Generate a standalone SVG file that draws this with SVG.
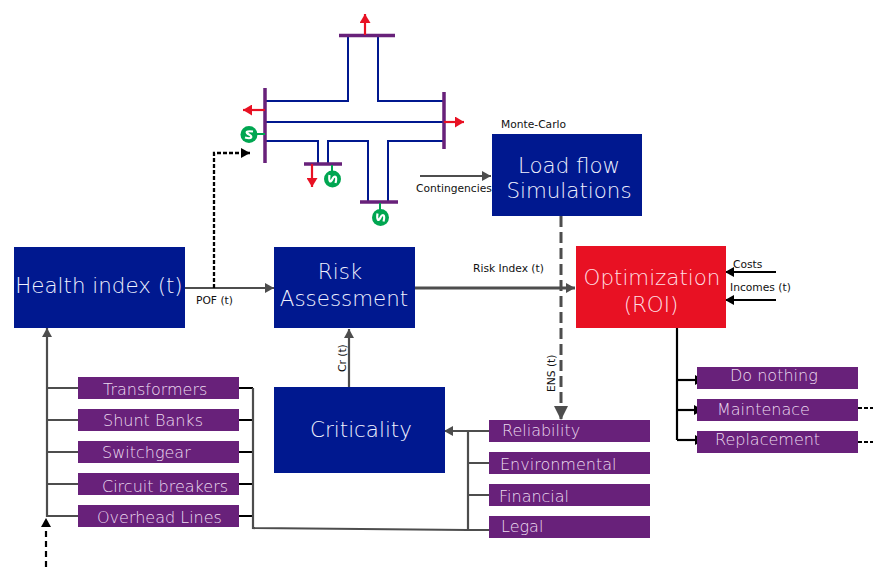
<svg xmlns="http://www.w3.org/2000/svg" width="873" height="568" viewBox="0 0 873 568">
<style>
text{font-family:"DejaVu Sans",sans-serif}
.b{fill:#00188f}
.r{fill:#e81123}
.p{fill:#68217a}
.bt{fill:#f0f2ff;font-size:21.400px;font-weight:200;text-anchor:middle}
.rt{fill:#ffdfe2;font-size:21.400px;font-weight:200;text-anchor:middle}
.pt{fill:#ecdcf0;font-size:16px;font-weight:200}
.l{fill:#111;font-size:10.700px}
.g{fill:none;stroke:#4d4d4d;stroke-width:2.200}
.g3{fill:none;stroke:#4d4d4d;stroke-width:3}
.k{fill:none;stroke:#000;stroke-width:2.200}
.kd{fill:none;stroke:#000;stroke-width:2.300}
.bus{fill:none;stroke:#68217a;stroke-width:3.500}
.line{fill:none;stroke:#00188f;stroke-width:2}
.red{fill:none;stroke:#e81123;stroke-width:2.200}
.gen{fill:#00a651}
.gl{fill:none;stroke:#00a651;stroke-width:2}
.s{fill:none;stroke:#fff;stroke-width:2.200}
</style>
<defs>
<marker id="ag" markerUnits="userSpaceOnUse" markerWidth="10" markerHeight="11" refX="9" refY="5.500" orient="auto"><path d="M0 0.500L9 5.500L0 10.500Z" fill="#4d4d4d"/></marker>
<marker id="agl" markerUnits="userSpaceOnUse" markerWidth="15" markerHeight="15" refX="14" refY="7.500" orient="auto"><path d="M0 0.500L14 7.500L0 14.500Z" fill="#4d4d4d"/></marker>
<marker id="ak" markerUnits="userSpaceOnUse" markerWidth="10" markerHeight="11" refX="9" refY="5.500" orient="auto"><path d="M0 0.500L9 5.500L0 10.500Z" fill="#000"/></marker>
<marker id="ar" markerUnits="userSpaceOnUse" markerWidth="10" markerHeight="11" refX="9" refY="5.500" orient="auto"><path d="M0 0L9 5.500L0 11Z" fill="#e81123"/></marker>
</defs>
<g id="connectors">
<path class="g" d="M185 288H274" marker-end="url(#ag)"/>
<path class="kd" stroke-dasharray="4 2" d="M214 288V153H250" marker-end="url(#ak)"/>
<path class="g3" d="M415 288H575" marker-end="url(#ag)"/>
<path class="g" d="M420 176H491" marker-end="url(#ag)"/>
<path class="g3" stroke-dasharray="11 5" d="M561 216V420" marker-end="url(#agl)"/>
<path class="g" d="M349 387V329" marker-end="url(#ag)"/>
<path class="g" d="M47 517V328" marker-end="url(#ag)"/>
<path class="k" stroke-dasharray="6 4" d="M46 567V518" marker-end="url(#ak)"/>
<path class="g" d="M47 388H78M47 420H78M47 452H78M47 484H78M47 516H78"/>
<path class="k" d="M239 388H253M239 420H253M239 452H253M239 484H253M239 516H253"/>
<path class="g" d="M253 388V528L468 530"/>
<path class="g" d="M489 431H444" marker-end="url(#ag)"/>
<path class="g" d="M468 431V530M468 463H489M468 495H489M468 530H489"/>
<path class="k" d="M776 272H725" marker-end="url(#ak)"/>
<path class="k" d="M776 300H725" marker-end="url(#ak)"/>
<path class="k" d="M677 328V440"/>
<path class="k" d="M677 380H704" marker-end="url(#ak)"/>
<path class="k" d="M677 410H703" marker-end="url(#ak)"/>
<path class="k" d="M677 440H704" marker-end="url(#ak)"/>
<path class="k" stroke-dasharray="4 2" d="M858 408H873M858 442H873"/>
</g>
<g id="network">
<path class="line" d="M266 101H348V36M378 36V101H444M266 122H444M266 141H318V164M328 164V141H368V202M388 202V141H444"/>
<path class="bus" d="M339 35.500H395M265 88V163M444 92V149M304 164H342M360 202H398"/>
<path class="red" d="M365 35V14" marker-end="url(#ar)"/>
<path class="red" d="M265 110H243" marker-end="url(#ar)"/>
<path class="red" d="M444 122H464" marker-end="url(#ar)"/>
<path class="red" d="M312 164V187" marker-end="url(#ar)"/>
<path class="gl" d="M257 134H265M332 165V172M380 203V210"/>
<circle class="gen" cx="249" cy="134.500" r="8.500"/>
<circle class="gen" cx="332.500" cy="179" r="8.500"/>
<circle class="gen" cx="380.500" cy="217.500" r="8.500"/>
<path class="s" d="M245 137.500C252 139.500 253 136.500 249 134.500S246 130.500 253 131.500"/>
<path class="s" d="M335.500 183C337.500 176 334.500 175 332.500 179S328.500 182 329.500 175"/>
<path class="s" d="M383.500 221.500C385.500 214.500 382.500 213.500 380.500 217.500S376.500 220.500 377.500 213.500"/>
</g>
<g id="load-flow"><rect class="b" x="492" y="134" width="150" height="82"/><text class="bt" x="569" y="173">Load flow</text><text class="bt" x="569" y="198">Simulations</text></g>
<g id="health"><rect class="b" x="14" y="247" width="171" height="81"/><text class="bt" x="99" y="293">Health index (t)</text></g>
<g id="risk"><rect class="b" x="274" y="247" width="141" height="81"/><text class="bt" x="340" y="279">Risk</text><text class="bt" x="344" y="306">Assessment</text></g>
<g id="optimization"><rect class="r" x="576" y="246" width="150" height="82"/><text class="rt" x="652" y="285">Optimization</text><text class="rt" x="651" y="312">(ROI)</text></g>
<g id="criticality"><rect class="b" x="274" y="387" width="171" height="86"/><text class="bt" x="361" y="437">Criticality</text></g>
<g id="transformers"><rect class="p" x="78" y="377" width="161" height="22"/><text class="pt" x="103" y="395">Transformers</text></g>
<g id="shunt"><rect class="p" x="78" y="409" width="161" height="22"/><text class="pt" x="103" y="426">Shunt Banks</text></g>
<g id="switchgear"><rect class="p" x="78" y="441" width="161" height="22"/><text class="pt" x="102" y="458">Switchgear</text></g>
<g id="breakers"><rect class="p" x="78" y="473" width="161" height="22"/><text class="pt" x="102" y="492">Circuit breakers</text></g>
<g id="overhead"><rect class="p" x="78" y="505" width="161" height="22"/><text class="pt" x="97" y="523">Overhead Lines</text></g>
<g id="reliability"><rect class="p" x="489" y="420" width="161" height="22"/><text class="pt" x="502" y="436">Reliability</text></g>
<g id="environmental"><rect class="p" x="489" y="452" width="161" height="22"/><text class="pt" x="500" y="470">Environmental</text></g>
<g id="financial"><rect class="p" x="489" y="484" width="161" height="22"/><text class="pt" x="499" y="502">Financial</text></g>
<g id="legal"><rect class="p" x="489" y="516" width="161" height="22"/><text class="pt" x="501" y="532">Legal</text></g>
<g id="do-nothing"><rect class="p" x="697" y="367" width="161" height="22"/><text class="pt" x="730" y="381">Do nothing</text></g>
<g id="maintenance"><rect class="p" x="697" y="399" width="161" height="22"/><text class="pt" x="717" y="415">Maintenace</text></g>
<g id="replacement"><rect class="p" x="697" y="431" width="161" height="22"/><text class="pt" x="715" y="445">Replacement</text></g>
<g id="labels">
<text class="l" x="501" y="128">Monte-Carlo</text>
<text class="l" x="416" y="192">Contingencies</text>
<text class="l" x="473" y="272">Risk Index (t)</text>
<text class="l" x="196" y="304">POF (t)</text>
<text class="l" x="733" y="268">Costs</text>
<text class="l" x="730" y="291">Incomes (t)</text>
<text class="l" transform="translate(346 372) rotate(-90)">Cr (t)</text>
<text class="l" transform="translate(555 392) rotate(-90)">ENS (t)</text>
</g>
</svg>
